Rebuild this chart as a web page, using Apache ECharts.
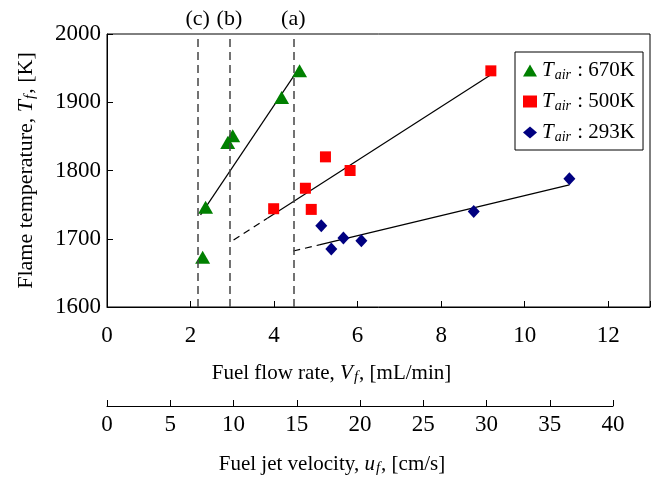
<!DOCTYPE html>
<html>
<head>
<meta charset="utf-8">
<script src="https://cdn.jsdelivr.net/npm/echarts@6/dist/echarts.min.js"></script>
<style>
html,body{margin:0;padding:0;background:#fff;}
#chart{width:653px;height:480px;}
</style>
</head>
<body>
<div id="chart"></div>
<script>
// points: x = fuel flow rate [mL/min], y = flame temperature [K]
var t670_x=[2.29,2.36,2.89,3.01,4.18,4.61];
var t670_y=[1673,1746,1841,1851,1907,1946];
var t500_x=[3.99,4.75,4.89,5.23,5.82,9.19];
var t500_y=[1744,1774,1743,1820,1800,1946];
var t293_x=[5.13,5.37,5.66,6.09,8.78,11.07];
var t293_y=[1719,1685,1701,1697,1740,1788];
var t_names=['670K','500K','293K'];
// fit lines, solid part + dashed extension
var fit670_solid=[[2.24,1735],[4.61,1951]];
var fit500_dash=[[3.03,1698],[3.84,1730]];
var fit500_solid=[[3.84,1730],[9.21,1941]];
var fit293_dash=[[4.46,1682],[5.08,1691]];
var fit293_solid=[[5.08,1691],[11.07,1779]];
// vertical guide lines
var guide_x=[2.17,2.93,4.46];
var guide_lbl=['(c)','(b)','(a)'];

var FONT='Liberation Serif';

function zip(xs,ys){
	var out=[];
	for(var i=0;i<xs.length;i++){
		out.push([xs[i],ys[i]]);
	}
	return out;
}
function fitLine(d,dashed){
	return {
		type:'line',data:d,xAxisIndex:0,yAxisIndex:0,
		symbol:'none',silent:true,z:1,
		lineStyle:{color:'#000',width:1.2,type:dashed?[7,5]:'solid'}
	};
}
function richSet(big,small){
	return {
		r:{fontFamily:FONT,fontSize:big,color:'#000',lineHeight:big+2,verticalAlign:'middle'},
		i:{fontFamily:FONT,fontSize:big,fontStyle:'italic',color:'#000',lineHeight:big+2,verticalAlign:'middle'},
		s:{fontFamily:FONT,fontSize:small,fontStyle:'italic',color:'#000',lineHeight:small-4,verticalAlign:'bottom',padding:[0,1,0,1]}
	};
}
var guides=[];
for(var i=0;i<guide_x.length;i++){
	guides.push({xAxis:guide_x[i],label:{formatter:guide_lbl[i]}});
}

var myChart=echarts.init(document.getElementById('chart'),null,{renderer:'canvas'});
myChart.setOption({
	animation:false,
	backgroundColor:'#fff',
	grid:[
		{left:107,top:34,right:0,bottom:173,show:true,borderColor:'#000',borderWidth:1},
		{left:107,top:405,width:506,height:1}
	],
	xAxis:[
		{
			type:'value',gridIndex:0,min:0,max:13,interval:2,
			axisLine:{show:true,lineStyle:{color:'#000'}},
			axisTick:{show:true,inside:true,length:6,lineStyle:{color:'#000'}},
			splitLine:{show:false},
			axisLabel:{fontFamily:FONT,fontSize:23,color:'#000',margin:17,
				formatter:function(v){return v%2==0?String(v):'';}},
			name:'{r|Fuel flow rate, }{i|V}{s|f}{r|, [mL/min]}',
			nameLocation:'middle',nameGap:55,
			nameTextStyle:{rich:richSet(21,15),padding:[0,94,0,0]}
		},
		{
			type:'value',gridIndex:1,min:0,max:40,interval:5,position:'bottom',
			axisLine:{show:true,onZero:false,lineStyle:{color:'#000'}},
			axisTick:{show:true,inside:true,length:6,lineStyle:{color:'#000'}},
			splitLine:{show:false},
			axisLabel:{fontFamily:FONT,fontSize:23,color:'#000',margin:7},
			name:'{r|Fuel jet velocity, }{i|u}{s|f}{r|, [cm/s]}',
			nameLocation:'middle',nameGap:47,
			nameTextStyle:{rich:richSet(21,15),padding:[0,56,0,0]}
		}
	],
	yAxis:[
		{
			type:'value',gridIndex:0,min:1600,max:2000,interval:100,
			axisLine:{show:true,lineStyle:{color:'#000'}},
			axisTick:{show:true,inside:true,length:6,lineStyle:{color:'#000'}},
			splitLine:{show:false},
			axisLabel:{fontFamily:FONT,fontSize:23,color:'#000',margin:6,
				formatter:function(v){return String(v);}},
			name:'{r|Flame temperature, }{i|T}{s|f}{r|, [K]}',
			nameLocation:'middle',nameGap:69,
			nameTextStyle:{rich:richSet(22,15)}
		},
		{type:'value',gridIndex:1,show:false,min:0,max:1}
	],
	legend:{
		orient:'vertical',left:515,top:52,
		data:t_names,
		borderColor:'#000',borderWidth:1,
		padding:[8,8,6,8],itemGap:9,itemWidth:14,itemHeight:12,
		formatter:function(name){
			return '{i|T}{s|air}{r| : '+name+'}';
		},
		textStyle:{rich:richSet(21,14)}
	},
	series:[
		{
			name:t_names[0],type:'scatter',symbol:'triangle',symbolSize:[15,13],
			itemStyle:{color:'#008000',opacity:1},data:zip(t670_x,t670_y),z:3
		},
		{
			name:t_names[1],type:'scatter',symbol:'rect',symbolSize:11,
			itemStyle:{color:'#ff0000',opacity:1},data:zip(t500_x,t500_y),z:3
		},
		{
			name:t_names[2],type:'scatter',symbol:'diamond',symbolSize:[12,13],
			itemStyle:{color:'#000080',opacity:1},data:zip(t293_x,t293_y),z:3
		},
		fitLine(fit670_solid,false),
		fitLine(fit500_dash,true),
		fitLine(fit500_solid,false),
		fitLine(fit293_dash,true),
		fitLine(fit293_solid,false),
		{
			type:'line',data:[],xAxisIndex:0,yAxisIndex:0,silent:true,
			markLine:{
				silent:true,symbol:['none','none'],
				lineStyle:{color:'#444',width:1.5,type:[8,5]},
				label:{position:'end',distance:4,fontFamily:FONT,fontSize:22,color:'#000'},
				data:guides
			}
		}
	]
});
</script>
</body>
</html>
